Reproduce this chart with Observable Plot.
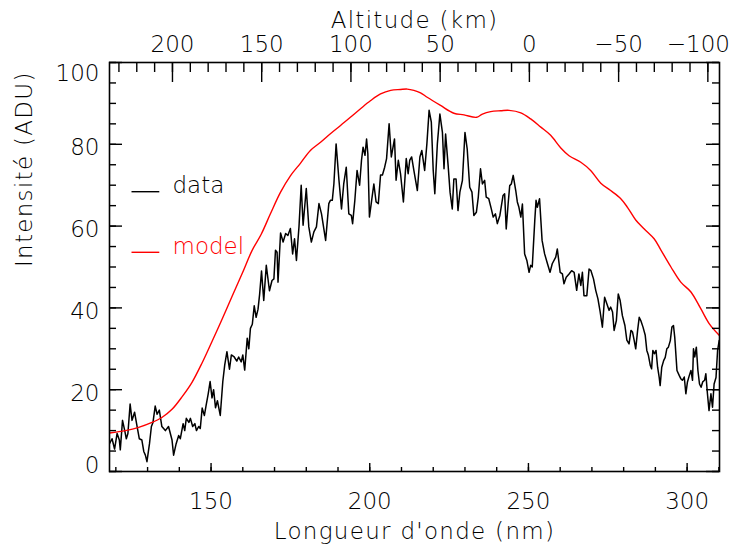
<!DOCTYPE html>
<html>
<head>
<meta charset="utf-8">
<script src="https://cdn.jsdelivr.net/npm/d3@7"></script>
<script src="https://cdn.jsdelivr.net/npm/@observablehq/plot@0.6"></script>
<style>
  html, body { margin: 0; padding: 0; background: #ffffff; }
  g[aria-label="text"] text { letter-spacing: 1.3px; }
</style>
</head>
<body>
<div id="chart"></div>
<script>
// ---------- data ----------
const dataWavelength = [
  118.0,118.8,119.6,120.4,121.1,121.4,122.1,122.8,123.3,123.8,124.5,125.1,125.9,126.7,127.4,128.2,128.8,129.3,129.8,130.6,
  131.2,131.7,132.4,133.0,133.7,134.5,135.6,136.6,137.7,138.2,139.0,139.8,140.3,141.2,141.7,142.2,143.0,143.5,144.2,144.9,
  145.4,146.1,146.6,147.2,147.9,148.4,149.1,149.7,150.3,150.8,151.4,152.0,152.9,153.7,154.3,155.0,155.8,156.4,157.3,158.1,
  158.7,159.5,160.0,160.6,161.4,161.9,162.4,163.0,163.6,164.2,164.8,165.3,165.9,166.6,167.4,168.4,169.2,169.8,170.3,170.8,
  171.1,171.9,172.7,173.5,174.2,175.0,175.7,176.3,176.9,177.7,178.4,179.0,180.0,180.8,181.6,182.4,183.2,184.0,184.8,186.1,
  187.1,187.6,188.2,188.7,189.4,190.3,191.1,191.8,192.6,193.4,194.2,194.6,195.3,196.0,196.8,197.4,197.9,198.5,199.0,199.4,
  199.9,200.6,201.3,202.0,202.7,203.4,204.0,204.7,205.3,206.1,206.8,207.8,208.3,209.0,209.7,210.6,211.5,212.1,212.6,213.2,
  213.9,215.0,215.8,216.4,217.3,218.0,218.7,219.4,220.0,220.5,221.3,222.1,222.9,223.4,223.9,224.7,225.3,226.0,226.5,227.2,
  227.8,228.4,229.2,230.0,230.7,231.5,232.2,232.8,233.6,234.2,234.9,235.5,236.2,236.7,237.5,238.3,238.9,239.6,240.2,241.0,
  242.0,242.5,243.0,243.6,244.1,244.6,245.2,246.0,246.5,247.0,247.6,248.1,248.8,249.5,250.2,250.7,251.2,252.0,252.4,252.8,
  253.5,254.3,255.1,256.0,256.8,257.5,258.6,259.1,260.0,260.7,261.2,261.9,262.8,263.6,264.4,265.2,265.9,266.5,267.0,267.5,
  268.4,269.1,269.7,270.5,271.2,271.9,272.6,273.3,274.0,274.7,275.4,275.9,276.5,277.0,277.7,278.3,278.9,279.6,280.4,281.0,
  281.7,282.3,282.8,283.3,283.8,284.4,284.9,285.4,286.1,286.8,287.3,287.8,288.4,288.8,289.2,289.7,290.2,290.7,291.2,291.5,
  292.0,292.6,293.1,293.6,294.1,294.7,295.2,295.7,296.1,296.8,297.5,298.0,298.5,299.1,299.6,300.1,300.7,301.2,301.7,302.0,
  302.4,302.9,303.4,303.9,304.4,304.9,305.5,305.9,306.4,306.9,307.5,308.0,308.5,309.1,309.6,310.1
];
const dataIntensity = [
  6.8,8.0,5.5,9.3,7.7,5.3,12.5,10.0,8.0,9.3,16.5,12.5,14.5,11.0,8.0,7.7,4.9,4.0,2.4,6.8,
  11.0,12.0,16.0,14.0,15.0,11.0,10.0,11.0,7.7,4.0,6.8,8.8,8.0,11.7,10.0,13.0,12.0,13.0,11.0,11.7,
  10.0,11.0,10.5,15.5,13.7,16.0,19.0,22.0,18.0,20.0,15.6,17.3,13.7,22.0,26.0,29.3,25.0,28.5,28.0,27.0,
  28.0,26.8,28.5,24.8,32.6,30.0,35.0,36.0,40.5,37.7,39.7,43.3,49.0,41.8,50.4,44.2,46.7,47.1,54.1,53.6,
  46.3,58.3,56.1,58.2,57.7,59.4,53.2,56.9,51.6,59.8,70.0,60.2,69.2,59.8,56.1,58.6,59.8,65.5,63.0,56.5,
  65.5,66.3,66.3,70.3,80.1,71.2,64.2,70.3,74.4,63.0,62.6,60.6,66.3,73.6,70.0,76.1,79.3,77.3,81.3,77.7,
  62.2,66.3,70.3,65.9,65.5,72.5,72.5,74.4,76.5,85.0,76.9,81.3,71.2,76.1,72.8,65.9,76.5,72.8,76.1,76.9,
  73.6,68.7,76.9,78.5,73.6,80.1,88.3,85.4,73.6,67.9,80.1,87.4,82.9,74.0,82.5,74.8,68.3,64.2,71.5,71.5,
  63.8,68.3,71.2,82.9,78.9,69.5,68.3,62.6,63.4,67.1,74.0,70.3,71.2,67.1,66.7,64.2,62.2,63.0,60.6,62.6,
  67.5,67.9,59.3,65.4,69.9,70.3,72.4,68.7,65.9,64.6,62.2,65.4,53.2,51.6,48.7,50.4,50.0,61.4,66.3,64.6,
  66.7,56.5,53.2,50.8,48.7,50.8,52.4,54.4,48.7,48.3,45.9,47.5,48.3,49.1,48.7,44.3,48.3,45.5,48.7,43.0,
  43.0,49.5,49.1,47.1,44.3,42.2,39.0,35.3,42.6,41.0,39.4,40.2,39.0,34.5,36.9,43.4,41.8,38.1,35.7,32.1,
  31.2,34.5,34.1,32.1,30.0,34.5,37.7,36.9,35.3,33.3,29.6,28.4,25.9,25.1,29.6,28.8,29.6,25.5,23.0,21.0,
  25.5,27.1,27.9,30.0,30.4,32.0,35.3,35.7,32.8,24.7,23.5,22.7,22.3,23.1,19.0,21.9,23.5,24.7,22.3,30.0,
  28.0,30.4,24.7,21.4,20.6,21.9,22.3,23.9,19.0,14.9,19.0,15.7,21.4,23.0,29.6,32.0
];
const modelWavelength = [
  118.0,123.0,127.2,131.4,134.5,137.7,140.9,144.0,147.2,150.3,153.5,156.6,159.8,162.9,165.8,168.7,171.9,175.0,178.2,181.3,
  184.5,187.6,190.8,193.9,197.1,200.3,203.4,206.6,209.7,211.8,213.9,216.0,218.1,222.3,226.5,229.7,233.7,235.5,238.1,241.3,
  243.9,247.6,250.7,253.9,257.0,260.2,262.8,266.5,269.6,272.8,275.9,279.1,281.2,283.8,286.5,289.6,291.7,294.9,298.0,301.2,
  304.3,307.0,310.1
];
const modelIntensity = [
  9.4,10.0,10.8,12.0,13.2,15.2,18.3,21.8,26.6,31.8,37.3,42.8,48.4,54.0,58.0,63.0,68.3,72.3,75.4,78.5,
  80.5,82.6,84.6,86.6,88.7,90.7,92.3,93.2,93.4,93.5,93.2,92.6,91.5,89.5,87.6,87.2,86.6,87.4,88.0,88.2,
  88.3,87.7,86.2,84.2,82.2,79.1,77.2,75.6,73.6,70.5,68.7,66.7,64.6,61.5,59.3,56.9,54.2,50.0,46.3,43.9,
  39.8,36.1,33.3
];

// axes / ticks / labels
const xTicks = [150, 200, 250, 300];
const xMinorTicks = [120,130,140,150,160,170,180,190,200,210,220,230,240,250,260,270,280,290,300,310];
const yTicks = [0, 20, 40, 60, 80, 100];
const yMinorTicks = [0,5,10,15,20,25,30,35,40,45,50,55,60,65,70,75,80,85,90,95,100];
const altTicks = [200, 150, 100, 50, 0, -50, -100];
const altMinorTicks = [230,220,210,200,190,180,170,160,150,140,130,120,110,100,90,80,70,60,50,40,30,20,10,0,-10,-20,-30,-40,-50,-60,-70,-80,-90,-100];
const xLabel = "Longueur d'onde (nm)";
const yLabel = "Intensité (ADU)";
const topLabel = "Altitude (km)";
const legendLabels = ["data", "model"];
const seriesColors = ["#000000", "#ff0000"];

// altitude -> wavelength relation (0 km at ~250.3 nm)
const altZeroNm = 250.3, nmPerKm = 0.5623;
const altToNm = a => altZeroNm - nmPerKm * a;
const fmtSigned = d => d < 0 ? "\u2212" + Math.abs(d) : String(d);

// ---------- layout ----------
const W = 742, H = 549;
const mL = 109, mR = 23, mT = 62, mB = 78;
const iw = W - mL - mR, ih = H - mT - mB;
const FONT = "'DejaVu Sans', 'Liberation Sans', sans-serif";

const dataRows = dataWavelength.map((w, i) => ({w, v: dataIntensity[i]}));
const modelRows = modelWavelength.map((w, i) => ({w, v: modelIntensity[i]}));

function legendMark(index, scales, values, dims) {
  const g = d3.create("svg:g");
  const left = dims.marginLeft, top = dims.marginTop;
  legendLabels.forEach((lab, i) => {
    const y = top + 129.7 + i * 60.6;
    g.append("line")
      .attr("x1", left + 22.5).attr("x2", left + 50.3)
      .attr("y1", y).attr("y2", y)
      .attr("stroke", seriesColors[i]).attr("stroke-width", 1.4);
    g.append("text")
      .attr("x", left + 63.5).attr("y", y + 1.6)
      .attr("text-anchor", "start")
      .attr("fill", seriesColors[i])
      .text(lab);
  });
  return g.node();
}

const tickStyle = {stroke: "black", strokeWidth: 1.4};
const titleStyle = {fill: "black"};

const chart = Plot.plot({
  width: W,
  height: H,
  marginLeft: mL, marginRight: mR, marginTop: mT, marginBottom: mB,
  style: {fontFamily: FONT, fontSize: "23px", fontWeight: 200, background: "#ffffff", color: "#000000", overflow: "visible"},
  x: {domain: [118, 310.2]},
  y: {domain: [0, 100]},
  marks: [
    // series
    Plot.line(dataRows, {x: "w", y: "v", stroke: seriesColors[0], strokeWidth: 1.5, clip: true}),
    Plot.line(modelRows, {x: "w", y: "v", stroke: seriesColors[1], strokeWidth: 1.4, clip: true, curve: "catmull-rom"}),

    // inward tick marks: bottom (wavelength)
    Plot.tickX(xMinorTicks, {x: d => d, insetTop: ih - 4, ...tickStyle}),
    Plot.tickX(xTicks, {x: d => d, insetTop: ih - 8, ...tickStyle}),
    // top (altitude)
    Plot.tickX(altMinorTicks.map(altToNm), {x: d => d, insetBottom: ih - 10, ...tickStyle}),
    Plot.tickX(altTicks.map(altToNm), {x: d => d, insetBottom: ih - 20, ...tickStyle}),
    // left and right (intensity)
    Plot.tickY(yMinorTicks, {y: d => d, insetRight: iw - 7, ...tickStyle}),
    Plot.tickY(yTicks, {y: d => d, insetRight: iw - 13, ...tickStyle}),
    Plot.tickY(yMinorTicks, {y: d => d, insetLeft: iw - 7, ...tickStyle}),
    Plot.tickY(yTicks, {y: d => d, insetLeft: iw - 13, ...tickStyle}),

    // tick labels
    Plot.axisX(xTicks, {anchor: "bottom", tickSize: 0, tickPadding: 21, label: null, tickFormat: d => String(d)}),
    Plot.axisX(altTicks.slice(0, -1).map(altToNm), {anchor: "top", tickSize: 0, tickPadding: 10.3, label: null,
      tickFormat: d => fmtSigned(Math.round((altZeroNm - d) / nmPerKm))}),
    Plot.axisX(altTicks.slice(-1).map(altToNm), {anchor: "top", tickSize: 0, tickPadding: 10.3, label: null, dx: -9.5,
      tickFormat: d => fmtSigned(Math.round((altZeroNm - d) / nmPerKm))}),
    Plot.axisY(yTicks.slice(1, -1), {anchor: "left", tickSize: 0, tickPadding: 10, label: null, dy: 3.5}),
    Plot.axisY(yTicks.slice(0, 1), {anchor: "left", tickSize: 0, tickPadding: 10, label: null, dy: -6}),
    Plot.axisY(yTicks.slice(-1), {anchor: "left", tickSize: 0, tickPadding: 10, label: null, dy: 11.5}),

    // axis titles
    Plot.text([xLabel], {frameAnchor: "bottom", lineAnchor: "bottom", dy: 67, ...titleStyle}),
    Plot.text([topLabel], {frameAnchor: "top", lineAnchor: "bottom", dy: -35, ...titleStyle}),
    Plot.text([yLabel], {frameAnchor: "left", lineAnchor: "bottom", rotate: -90, dx: -77.7, ...titleStyle}),

    // legend
    legendMark,

    // frame
    Plot.frame({stroke: "black", strokeWidth: 1.6})
  ]
});

document.getElementById("chart").appendChild(chart);
</script>
</body>
</html>
